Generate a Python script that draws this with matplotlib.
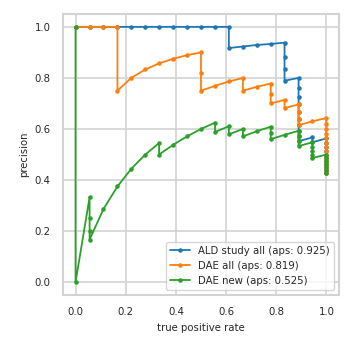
import matplotlib
matplotlib.use('Agg')
import matplotlib.pyplot as plt
import seaborn as sns

sns.set_style('whitegrid')
plt.rcParams['font.family'] = ['DejaVu Sans']
plt.rcParams['font.size'] = 7.3

# precision-recall points (18 positives, 42 samples)
ald_recall = [0, .056, .111, .167, .222, .278, .333, .389, .444, .5, .556, .611, .611,
              .667, .722, .778, .833, .833, .833, .833] + [.889] * 10 + [.944, .944] + [1.0] * 11
ald_precision = [1] * 12 + [.917, .923, .929, .933, .938, .882, .833, .789,
                            .8, .762, .727, .696, .667, .64, .615, .593, .571, .552,
                            .567, .548,
                            .563, .545, .529, .514, .5, .486, .474, .462, .45, .439, .429]

dae_all_recall = [0, .056, .111, .167, .167, .222, .278, .333, .389, .444, .5, .5, .5,
                  .556, .611, .667, .667, .722, .778, .778, .778, .833, .833,
                  .889, .889, .889, .889, .944] + [1.0] * 15
dae_all_precision = [1, 1, 1, 1, .75, .8, .833, .857, .875, .889, .9, .818, .75,
                     .769, .786, .8, .75, .765, .778, .737, .7, .714, .682,
                     .696, .667, .64, .615, .63,
                     .643, .621, .6, .581, .563, .545, .529, .514, .5, .486, .474, .462, .45, .439, .429]

dae_new_recall = [0, 0, .056, .056, .056, .056, .111, .167, .222, .278, .333, .333,
                  .389, .444, .5, .556, .556, .611, .611, .667, .667, .722,
                  .778, .778, .778, .833] + [.889] * 4 + [.944] * 5 + [1.0] * 7
dae_new_precision = [1, 0, .333, .25, .2, .167, .286, .375, .444, .5, .545, .5,
                     .538, .571, .6, .625, .588, .611, .579, .6, .571, .591,
                     .609, .583, .56, .577, .593, .571, .552, .533,
                     .548, .531, .515, .5, .486,
                     .5, .486, .474, .462, .45, .439, .429]

labels = ['ALD study all (aps: 0.925)', 'DAE all (aps: 0.819)', 'DAE new (aps: 0.525)']

fig = plt.figure(figsize=(3.52, 3.52), dpi=100)
ax = fig.add_axes([0.179, 0.162, 0.784, 0.798])

for r, p, lab in zip([ald_recall, dae_all_recall, dae_new_recall],
                     [ald_precision, dae_all_precision, dae_new_precision], labels):
    ax.plot(r, p, marker='.', markersize=4.5, linewidth=1.3, label=lab)

ax.set_xticks([0, 0.2, 0.4, 0.6, 0.8, 1.0])
ax.set_yticks([0, 0.2, 0.4, 0.6, 0.8, 1.0])
ax.tick_params(length=0, pad=9)
ax.grid(color='#d3d3d3', linewidth=1.2)
for s in ax.spines.values():
    s.set_color('#d3d3d3')
    s.set_linewidth(1.5)
ax.set_xlabel('true positive rate')
ax.set_ylabel('precision')
ax.legend(loc='lower right')

fig.savefig('out.png', dpi=100)
